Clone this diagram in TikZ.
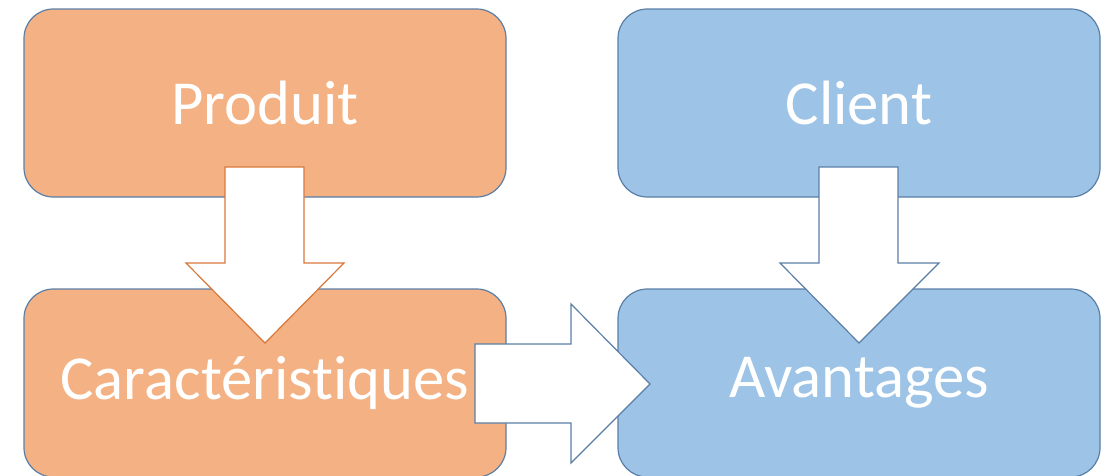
\documentclass[tikz,border=0pt]{standalone}
\usepackage{fontspec}
\setmainfont[Ligatures={NoCommon}]{Carlito}
\definecolor{orfill}{HTML}{F4B183}
\definecolor{blfill}{HTML}{9DC3E6}
\definecolor{bdr}{HTML}{5A7FA7}
\definecolor{orline}{HTML}{D9773A}
\begin{document}
\begin{tikzpicture}[x=0.75pt,y=-0.75pt,
  box/.style={draw=bdr,line width=0.9pt,rounded corners=22pt,minimum width=361.5pt,minimum height=141pt,inner sep=0pt,
    text=white,font=\fontsize{47}{56}\selectfont},
  obox/.style={box,fill=orfill},
  bbox/.style={box,fill=blfill},
  barrow/.style={draw=#1,fill=white,line width=0.9pt,line join=miter}]
\useasboundingbox (0,0) rectangle (1112,475);
\clip (0,0) rectangle (1112,475);
\node[obox] (prod) at (265,103) {Produit};
\node[bbox] (cli) at (859,103) {Client};
\node[obox] (car) at (265,383) {Caractéristiques};
\node[bbox] (ava) at (859,383) {Avantages};
% block arrows
\draw[barrow=orline] (225,167) -- (304,167) -- (304,263) -- (344,263) -- (265,343) -- (186,263) -- (225,263) -- cycle;
\draw[barrow=bdr] (819,167) -- (898,167) -- (898,263) -- (939,263) -- (859,343) -- (780,263) -- (819,263) -- cycle;
\draw[barrow=bdr] (475,344) -- (571,344) -- (571,304) -- (650,384) -- (571,463) -- (571,423) -- (475,423) -- cycle;
\end{tikzpicture}
\end{document}
